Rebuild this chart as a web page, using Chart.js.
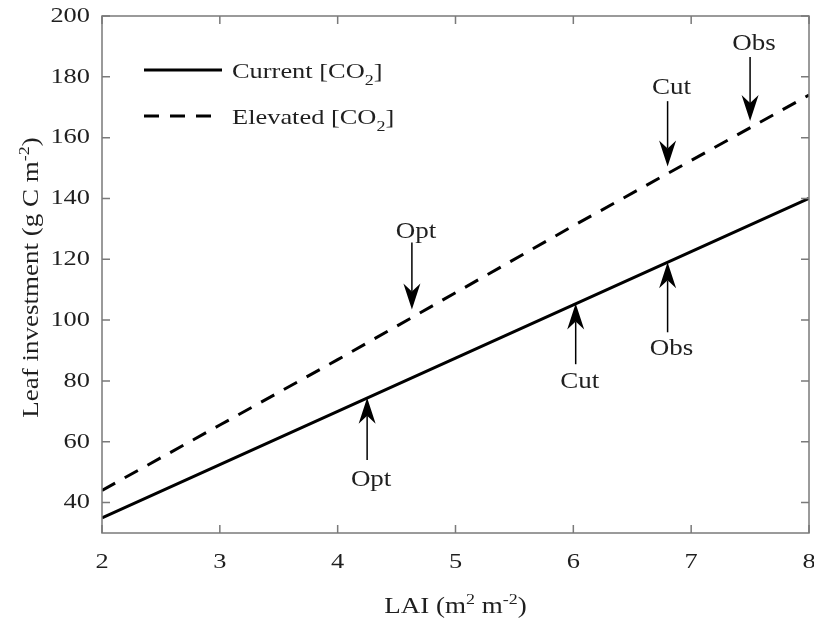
<!DOCTYPE html>
<html>
<head>
<meta charset="utf-8">
<script src="https://cdn.jsdelivr.net/npm/chart.js@4.4.0/dist/chart.umd.min.js"></script>
<style>
  html, body { margin: 0; background: #fff; }
  #wrap { width: 814px; height: 619px; }
</style>
</head>
<body>
<div id="wrap"><canvas id="myChart"></canvas></div>
<script>
// values
const lai = [2, 3, 4, 5, 6, 7, 8]
const currentCO2 = [35, 52.5, 70, 87.5, 105, 122.5, 140]
const elevatedCO2 = [44, 65.5, 87, 109, 131, 152.5, 174]

const xTicks = [2, 3, 4, 5, 6, 7, 8]
const yTicks = [40, 60, 80, 100, 120, 140, 160, 180, 200]

// arrow annotations: first three on current, last three on elevated
const arrowLabels = ['Opt', 'Cut', 'Obs', 'Opt', 'Cut', 'Obs']
const arrowX = [4.25, 6.02, 6.8, 4.63, 6.8, 7.5]
const arrowTip = [74.5, 105.5, 119, 103.5, 150.5, 165.5]
const arrowTail = [54, 85.5, 96, 125.5, 172, 186.5]
const arrowTextY = [47.3, 79.6, 90.4, 128.9, 176.2, 190.8]

const serif = '"Liberation Serif", "Times New Roman", serif'
const textColor = '#1f1f1f'
const axisColor = '#7a7a7a'
const stretch = 1.2   // the figure's glyphs are wider than plain Times

const toPoints = ys => lai.map((x, i) => ({ x: x, y: ys[i] }))

// text made of pieces, each [str] or [str, 'sub'|'sup']
function richText(ctx, parts, x, y, size, align, opts) {
  opts = opts || {}
  const small = Math.round(size * 0.68)
  let total = 0
  parts.forEach(p => {
    ctx.font = (p[1] ? small : size) + 'px ' + serif
    total += ctx.measureText(p[0]).width
  })
  ctx.save()
  ctx.translate(x, y)
  if (opts.rotate) ctx.rotate(-Math.PI / 2)
  ctx.scale(stretch, 1)
  let cx = 0
  if (align === 'center') cx = -total / 2
  if (align === 'right') cx = -total
  ctx.textAlign = 'left'
  ctx.textBaseline = opts.baseline || 'alphabetic'
  parts.forEach(p => {
    ctx.font = (p[1] ? small : size) + 'px ' + serif
    let dy = 0
    if (p[1] === 'sub') dy = size * 0.3
    if (p[1] === 'sup') dy = -size * 0.42
    ctx.fillText(p[0], cx, dy)
    cx += ctx.measureText(p[0]).width
  })
  ctx.restore()
}

function drawArrow(ctx, x, yTip, yTail) {
  const dir = yTail > yTip ? 1 : -1   // +1 = tail below tip (pointing up)
  const headLen = 26, headHalf = 8.5, notch = 18
  ctx.beginPath()
  ctx.moveTo(x, yTail)
  ctx.lineTo(x, yTip + dir * notch)
  ctx.lineWidth = 1.5
  ctx.strokeStyle = '#000'
  ctx.stroke()
  ctx.beginPath()
  ctx.moveTo(x, yTip)
  ctx.lineTo(x - headHalf, yTip + dir * headLen)
  ctx.lineTo(x, yTip + dir * notch)
  ctx.lineTo(x + headHalf, yTip + dir * headLen)
  ctx.closePath()
  ctx.fillStyle = '#000'
  ctx.fill()
}

const decorations = {
  id: 'decorations',
  afterDraw(chart) {
    const ctx = chart.ctx
    const a = chart.chartArea
    const xs = chart.scales.x, ys = chart.scales.y
    ctx.save()

    // box and inward ticks on all four sides
    ctx.strokeStyle = axisColor
    ctx.lineWidth = 1.5
    ctx.strokeRect(a.left, a.top, a.right - a.left, a.bottom - a.top)
    const tl = 8
    ctx.beginPath()
    xs.ticks.forEach(t => {
      const px = xs.getPixelForValue(t.value)
      ctx.moveTo(px, a.bottom); ctx.lineTo(px, a.bottom - tl)
      ctx.moveTo(px, a.top); ctx.lineTo(px, a.top + tl)
    })
    ys.ticks.forEach(t => {
      const py = ys.getPixelForValue(t.value)
      ctx.moveTo(a.left, py); ctx.lineTo(a.left + tl, py)
      ctx.moveTo(a.right, py); ctx.lineTo(a.right - tl, py)
    })
    ctx.stroke()

    // tick labels
    ctx.fillStyle = textColor
    xs.ticks.forEach(t => {
      richText(ctx, [[String(t.value)]], xs.getPixelForValue(t.value), a.bottom + 29, 22, 'center', { baseline: 'middle' })
    })
    ys.ticks.forEach(t => {
      richText(ctx, [[String(t.value)]], a.left - 12, ys.getPixelForValue(t.value), 22, 'right', { baseline: 'middle' })
    })

    // axis titles
    richText(ctx, [['LAI (m'], ['2', 'sup'], [' m'], ['-2', 'sup'], [')']],
      (a.left + a.right) / 2, 613, 22.5, 'center')
    richText(ctx, [['Leaf investment (g C m'], ['-2', 'sup'], [')']],
      38, (a.top + a.bottom) / 2 + 3, 22.5, 'center', { rotate: true })

    // legend
    chart.data.datasets.forEach((ds, i) => {
      const ly = 70 + i * 46
      ctx.beginPath()
      ctx.setLineDash(ds.borderDash || [])
      ctx.lineWidth = ds.borderWidth
      ctx.strokeStyle = ds.borderColor
      ctx.moveTo(144, ly); ctx.lineTo(222, ly)
      ctx.stroke()
      ctx.setLineDash([])
      ctx.fillStyle = textColor
      richText(ctx, [[ds.label + ' [CO'], ['2', 'sub'], [']']], 232, ly + 8, 22, 'left')
    })

    // arrows with labels
    arrowX.forEach((v, i) => {
      const px = xs.getPixelForValue(v)
      drawArrow(ctx, px, ys.getPixelForValue(arrowTip[i]), ys.getPixelForValue(arrowTail[i]))
      ctx.fillStyle = textColor
      richText(ctx, [[arrowLabels[i]]], px + 4, ys.getPixelForValue(arrowTextY[i]), 22.5, 'center', { baseline: 'middle' })
    })
    ctx.restore()
  }
}

const ctx = document.getElementById('myChart').getContext('2d')

new Chart(ctx, {
  type: 'scatter',
  data: {
    datasets: [
      {
        label: 'Current',
        data: toPoints(currentCO2),
        showLine: true,
        borderColor: '#000',
        borderWidth: 3,
        pointRadius: 0
      },
      {
        label: 'Elevated',
        data: toPoints(elevatedCO2),
        showLine: true,
        borderColor: '#000',
        borderWidth: 3,
        borderDash: [15, 11],
        pointRadius: 0
      }
    ]
  },
  options: {
    responsive: true,
    maintainAspectRatio: false,
    animation: false,
    events: [],
    layout: { padding: { top: 16, right: 5, left: 0, bottom: 0 } },
    plugins: { legend: { display: false }, tooltip: { enabled: false } },
    scales: {
      x: {
        type: 'linear',
        min: 2,
        max: 8,
        afterBuildTicks: s => { s.ticks = xTicks.map(v => ({ value: v })) },
        afterFit: s => { s.height = 86; s.paddingLeft = 0; s.paddingRight = 0 },
        grid: { display: false, drawTicks: false },
        border: { display: false },
        ticks: { display: false }
      },
      y: {
        type: 'linear',
        min: 30,
        max: 200,
        afterBuildTicks: s => { s.ticks = yTicks.map(v => ({ value: v })) },
        afterFit: s => { s.width = 102; s.paddingTop = 0; s.paddingBottom = 0 },
        grid: { display: false, drawTicks: false },
        border: { display: false },
        ticks: { display: false }
      }
    }
  },
  plugins: [decorations]
})
</script>
</body>
</html>
